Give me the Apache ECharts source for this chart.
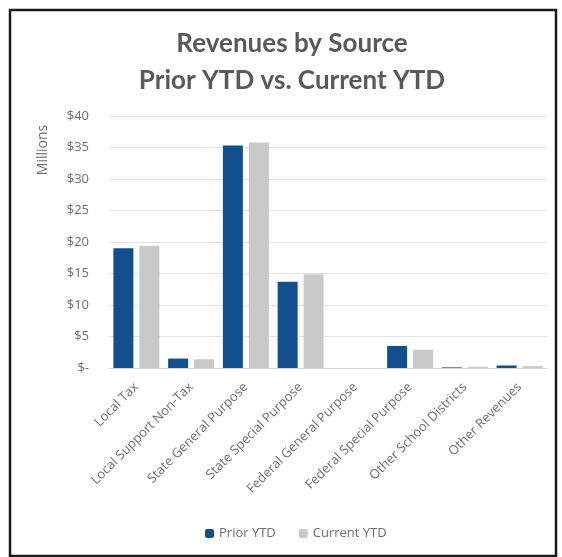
<!DOCTYPE html>
<html>
<head>
<meta charset="utf-8">
<script src="https://cdn.jsdelivr.net/npm/echarts@6/dist/echarts.min.js"></script>
<style>
  html, body { margin: 0; padding: 0; background: #fff; }
  #chart { width: 562px; height: 557px; }
</style>
</head>
<body>
<div id="chart"></div>
<script>
// revenue sources, in millions of dollars
const categories = [
  'Local Tax', 'Local Support Non-Tax', 'State General Purpose', 'State Special Purpose',
  'Federal General Purpose', 'Federal Special Purpose', 'Other School Districts', 'Other Revenues'
];
const priorYTD = [19.0, 1.5, 35.3, 13.7, 0, 3.5, 0.1, 0.4];
const currentYTD = [19.4, 1.4, 35.8, 14.9, 0, 2.9, 0.2, 0.3];
const yTicks = [0, 5, 10, 15, 20, 25, 30, 35, 40];

const chart = echarts.init(document.getElementById('chart'));

const labelFont = '"Open Sans", sans-serif';
const labelColor = '#6e6e6e';

const option = {
  backgroundColor: '#fff',
  animation: false,
  title: {
    text: 'Revenues by Source\nPrior YTD vs. Current YTD',
    left: 287,
    textAlign: 'center',
    top: 20,
    textStyle: {
      color: '#595959',
      fontFamily: 'Lato, sans-serif',
      fontWeight: 'bold',
      fontSize: 26,
      lineHeight: 37
    }
  },
  // outer frame + rotated unit label
  graphic: [
    {
      type: 'rect',
      shape: { x: 10, y: 10, width: 546, height: 546 },
      style: { fill: 'none', stroke: '#1a1a1a', lineWidth: 2.5 }
    },
    {
      type: 'text',
      x: 43,
      y: 150,
      rotation: Math.PI / 2,
      style: {
        text: 'Millions',
        fill: labelColor,
        font: '14px "Open Sans", sans-serif',
        align: 'center',
        verticalAlign: 'middle'
      }
    }
  ],
  legend: {
    data: ['Prior YTD', 'Current YTD'],
    bottom: 12,
    left: 200,
    itemWidth: 9,
    itemHeight: 9,
    itemGap: 23,
    textStyle: { color: labelColor, fontFamily: labelFont, fontSize: 13 }
  },
  grid: {
    left: 109,
    right: 15,
    top: 116,
    bottom: 189,
    containLabel: false
  },
  xAxis: {
    type: 'category',
    data: categories,
    axisLine: { lineStyle: { color: '#d9d9d9' } },
    axisTick: { show: false },
    axisLabel: {
      rotate: 45,
      interval: 0,
      margin: 17,
      color: labelColor,
      fontFamily: labelFont,
      fontSize: 13
    }
  },
  yAxis: {
    type: 'value',
    min: yTicks[0],
    max: yTicks[yTicks.length - 1],
    interval: 5,
    axisLine: { show: false },
    axisTick: { show: false },
    splitLine: { lineStyle: { color: '#e3e3e3' } },
    axisLabel: {
      margin: 20,
      color: labelColor,
      fontFamily: labelFont,
      fontSize: 13,
      formatter: v => v === 0 ? '$-' : '$' + v
    }
  },
  series: [
    {
      name: 'Prior YTD',
      type: 'bar',
      data: priorYTD,
      barWidth: 20,
      barGap: '30%',
      itemStyle: { color: '#114f8f' }
    },
    {
      name: 'Current YTD',
      type: 'bar',
      data: currentYTD,
      barWidth: 20,
      itemStyle: { color: '#c9c9c9' }
    }
  ]
};

chart.setOption(option);
</script>
</body>
</html>
